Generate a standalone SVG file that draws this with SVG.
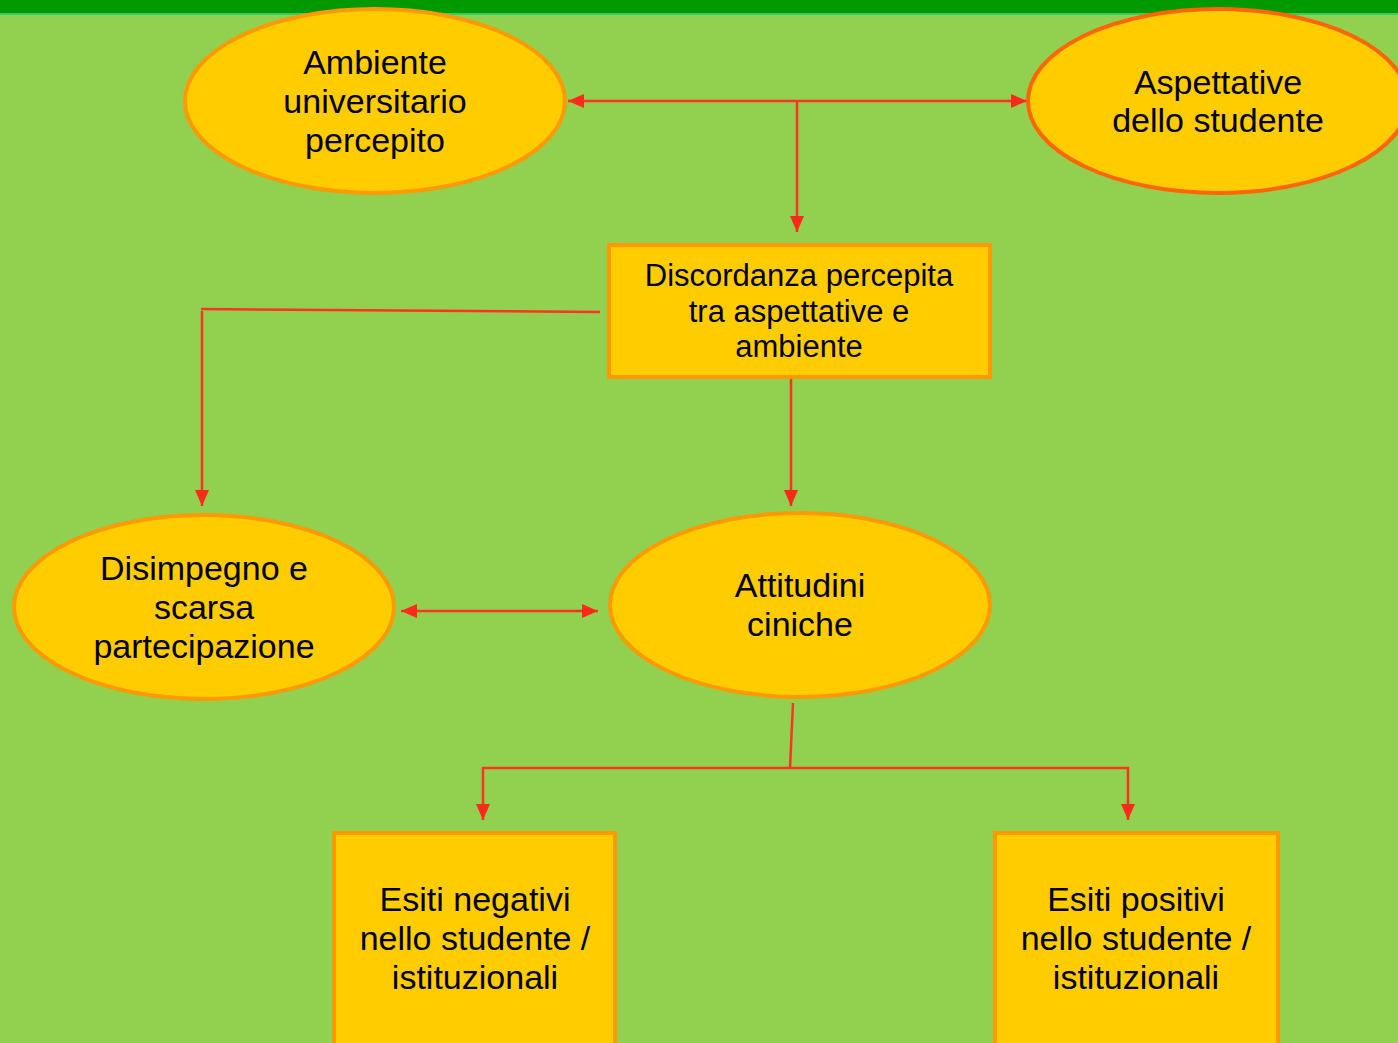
<svg xmlns="http://www.w3.org/2000/svg" width="1398" height="1043" viewBox="0 0 1398 1043">
<defs>
<style>
.node{fill:#FFCC00;stroke:#FF9900;stroke-width:4}
.node2{fill:#FFCC00;stroke:#FF6600;stroke-width:4}
.lbl{font-family:"Liberation Sans",Arial,sans-serif;font-size:34px;fill:#000;text-anchor:middle}
.lbl2{font-family:"Liberation Sans",Arial,sans-serif;font-size:31px;fill:#000;text-anchor:middle}
.con{fill:none;stroke:#FF3322;stroke-width:2.5}
</style>
<marker id="ah" viewBox="0 0 16 14" refX="16" refY="7" markerWidth="16" markerHeight="14" markerUnits="userSpaceOnUse" orient="auto-start-reverse">
<path d="M0,0 L16,7 L0,14 Z" fill="#FF2A1A"/>
</marker>
</defs>
<rect width="1398" height="1043" fill="#92D050"/>
<rect width="1398" height="13" fill="#009900"/>
<rect y="13" width="1398" height="2" fill="#33CC66"/>
<g id="connectors">
<line class="con" x1="568" y1="101" x2="1027" y2="101" marker-start="url(#ah)" marker-end="url(#ah)"/>
<line class="con" x1="797" y1="101" x2="797" y2="232" marker-end="url(#ah)"/>
<polyline class="con" points="600,312 201,309"/>
<line class="con" x1="202" y1="311" x2="202" y2="506" marker-end="url(#ah)"/>
<line class="con" x1="791" y1="379" x2="791" y2="506" marker-end="url(#ah)"/>
<line class="con" x1="401" y1="611" x2="598" y2="611" marker-start="url(#ah)" marker-end="url(#ah)"/>
<line class="con" x1="793" y1="703" x2="790" y2="768"/>
<polyline class="con" points="483,820 483,768 1128,768 1128,820" marker-start="url(#ah)" marker-end="url(#ah)"/>
</g>
<g id="ambiente">
<ellipse class="node" cx="375" cy="101" rx="190" ry="92"/>
<text class="lbl" x="375" y="74">Ambiente</text>
<text class="lbl" x="375" y="113">universitario</text>
<text class="lbl" x="375" y="152">percepito</text>
</g>
<g id="aspettative">
<ellipse class="node2" cx="1218" cy="101" rx="190" ry="92"/>
<text class="lbl" x="1218" y="94">Aspettative</text>
<text class="lbl" x="1218" y="132">dello studente</text>
</g>
<g id="discordanza">
<rect class="node" x="609" y="245" width="381" height="132"/>
<text class="lbl2" x="799" y="286">Discordanza percepita</text>
<text class="lbl2" x="799" y="322">tra aspettative e</text>
<text class="lbl2" x="799" y="357">ambiente</text>
</g>
<g id="disimpegno">
<ellipse class="node" cx="204" cy="607" rx="190" ry="92"/>
<text class="lbl" x="204" y="580">Disimpegno e</text>
<text class="lbl" x="204" y="619">scarsa</text>
<text class="lbl" x="204" y="658">partecipazione</text>
</g>
<g id="attitudini">
<ellipse class="node" cx="800" cy="605" rx="190" ry="92"/>
<text class="lbl" x="800" y="597">Attitudini</text>
<text class="lbl" x="800" y="636">ciniche</text>
</g>
<g id="esiti-negativi">
<rect class="node" x="334" y="833" width="281" height="215"/>
<text class="lbl" x="475" y="911">Esiti negativi</text>
<text class="lbl" x="475" y="950">nello studente /</text>
<text class="lbl" x="475" y="989">istituzionali</text>
</g>
<g id="esiti-positivi">
<rect class="node" x="995" y="833" width="283" height="215"/>
<text class="lbl" x="1136" y="911">Esiti positivi</text>
<text class="lbl" x="1136" y="950">nello studente /</text>
<text class="lbl" x="1136" y="989">istituzionali</text>
</g>
</svg>
